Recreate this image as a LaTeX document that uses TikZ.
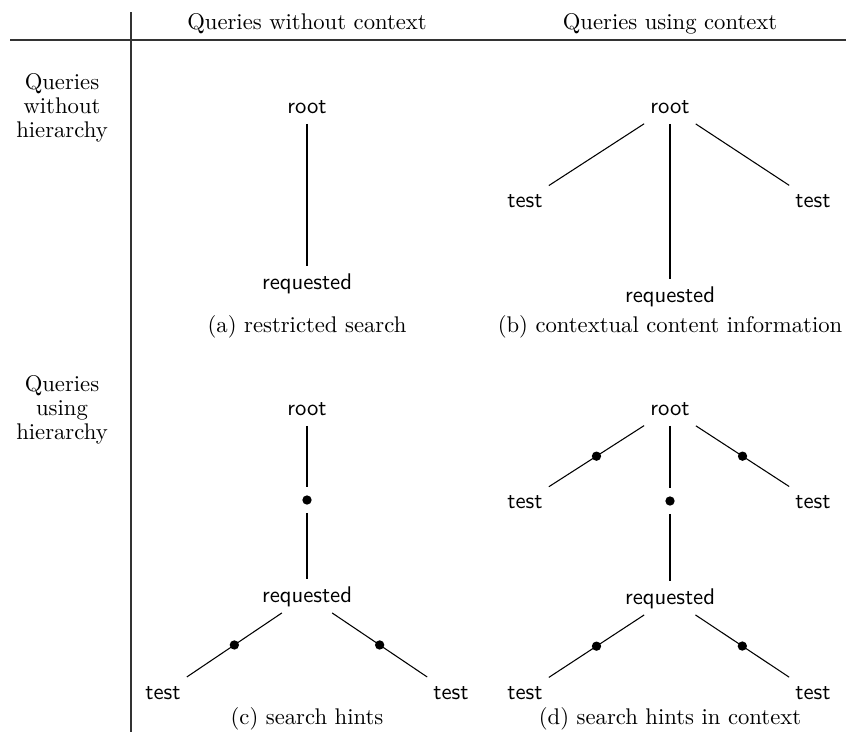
\documentclass[tikz,border=0pt]{standalone}
\usepackage{fontspec}
\setmainfont{lmroman10-regular.otf}
\setsansfont{lmsans10-regular.otf}
\usepackage{tikz}
\usetikzlibrary{positioning,calc}
\tikzset{
	lab/.style={font=\sffamily\fontsize{17}{20}\selectfont, text height=12.5pt,
		text depth=3.5pt, inner sep=4.5pt, anchor=base},
	capt/.style={font=\fontsize{17}{20}\selectfont, anchor=base, inner sep=0pt},
	rowlbl/.style={font=\fontsize{17}{18}\selectfont, align=center, anchor=base, inner sep=0pt},
	dot/.style={circle, fill=black, inner sep=0pt, minimum size=7pt},
	hint/.style={dot, outer sep=1.5pt},
	hop/.style={dot, outer sep=6.2pt},
	edge/.style={line width=0.8pt},
	rule/.style={line width=1.1pt, draw=black!80},
}

\begin{document}
\begin{tikzpicture}[x=0.75pt, y=-0.75pt]
	\useasboundingbox (0,0) rectangle (846,732);
	% table frame
	\coordinate (hl) at (10,40);
	\coordinate (hr) at (846,40);
	\coordinate (vt) at (131,12);
	\coordinate (vb) at (131,732);
	\draw[rule] (hl) -- (hr);
	\draw[rule] (vt) -- (vb);
	\node[capt] at (307,29) (colA) {Queries without context};
	\node[capt] at (670,29) (colB) {Queries using context};
	\node[rowlbl] at (62,137) (rowA) {Queries\\without\\hierarchy};
	\node[rowlbl] at (62,439) (rowB) {Queries\\using\\hierarchy};

	% (a)
	\node[lab] at (307,113) (aroot) {root};
	\node[lab] at (307,289) (areq) {requested};
	\draw[edge] (aroot) -- (areq);
	\node[capt] at (307,332) (acap) {(a) restricted search};

	% (b)
	\node[lab] at (670,113) (broot) {root};
	\node[lab] at (525,207) (btl) {test};
	\node[lab] at (813,207) (btr) {test};
	\node[lab] at (670,302) (breq) {requested};
	\draw[edge] (broot) -- (btl);
	\draw[edge] (broot) -- (breq);
	\draw[edge] (broot) -- (btr);
	\node[capt] at (670,332) (bcap) {(b) contextual content information};

	% (c)
	\node[lab] at (307,415) (croot) {root};
	\node[hop] at (307,500) (cmid) {};
	\node[lab] at (307,602) (creq) {requested};
	\node[lab] at (163,699) (ctl) {test};
	\node[lab] at (451,699) (ctr) {test};
	\draw[edge] (croot) -- (cmid);
	\draw[edge] (cmid) -- (creq);
	\draw[edge] (creq) -- node[hint] {} (ctl);
	\draw[edge] (creq) -- node[hint] {} (ctr);
	\node[capt] at (307,724) (ccap) {(c) search hints};

	% (d)
	\node[lab] at (670,415) (droot) {root};
	\node[lab] at (525,508) (dtl) {test};
	\node[lab] at (813,508) (dtr) {test};
	\node[hop] at (670,501) (dmid) {};
	\node[lab] at (670,604) (dreq) {requested};
	\node[lab] at (525,699) (dbl) {test};
	\node[lab] at (813,699) (dbr) {test};
	\draw[edge] (droot) -- node[hint] {} (dtl);
	\draw[edge] (droot) -- node[hint] {} (dtr);
	\draw[edge] (droot) -- (dmid);
	\draw[edge] (dmid) -- (dreq);
	\draw[edge] (dreq) -- node[hint] {} (dbl);
	\draw[edge] (dreq) -- node[hint] {} (dbr);
	\node[capt] at (670,724) (dcap) {(d) search hints in context};
\end{tikzpicture}
\end{document}
